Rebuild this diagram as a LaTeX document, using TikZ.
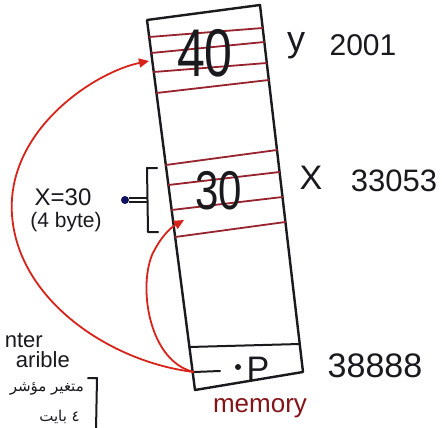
\documentclass[tikz,border=0pt]{standalone}
\usepackage{fontspec}
\setmainfont{Liberation Sans}
\newfontfamily\arabicfont[Script=Arabic]{DejaVu Sans}
\TeXXeTstate=1
\usetikzlibrary{arrows.meta}
\definecolor{ink}{RGB}{25,25,30}
\definecolor{cellred}{RGB}{150,35,45}
\definecolor{arrowred}{RGB}{215,35,25}
\definecolor{memred}{RGB}{130,20,25}
\begin{document}
\begin{tikzpicture}[x=1pt,y=-1pt,
  boxline/.style={draw=ink,line width=2.4pt,line join=round,line cap=round},
  cellline/.style={draw=cellred,line width=1.8pt,line cap=round},
  redarrow/.style={draw=arrowred,line width=1.8pt,-{Triangle[length=10pt,width=9pt]},fill=none},
  hand/.style={inner sep=0pt,text=ink,font=\fontsize{#1}{#1}\selectfont},
]
\useasboundingbox (0,0) rectangle (442,428);
\clip (0,0) rectangle (442,428);
\fill[white] (0,0) rectangle (442,428);

% memory block
\draw[boxline] (147,20) -- (260,5) -- (303,372) -- (195,390) -- cycle;
% cells of y
\draw[cellline] (149.2,37) -- (262.7,28);
\draw[cellline] (151.3,53) -- (264.3,42);
\draw[cellline] (153.7,72) -- (266.8,63);
\draw[cellline] (156.5,93) -- (268.8,80);
% cells of x
\draw[cellline] (165.8,165) -- (277,150);
\draw[cellline] (168.4,185) -- (279.6,172);
\draw[cellline] (171.6,210) -- (282.5,197);
\draw[cellline] (175.2,237) -- (285.4,222);
% cell of p
\draw[boxline,line width=2pt] (189.4,347) -- (299.7,344);

% values in cells
\node[hand=50] (v40) at (205,53) {\scalebox{1}[1.35]{40}};
\node[hand=42] (v30) at (219,191) {\scalebox{1}[1.3]{30}};
\node[hand=34] (vP) at (258,369) {P};
\fill[ink] (238,367) circle (3pt);

% names and addresses
\node[hand=36] (ny) at (296,46) {y};
\node[hand=30] (ay) at (363,45) {2001};
\node[hand=34] (nx) at (311,178) {X};
\node[hand=31] (ax) at (394,181) {33053};
\node[hand=34] (ap) at (375,366) {38888};
\node[hand=26,text=memred] (mem) at (260,408) {memory};

% x description
\node[hand=24] (xdesc) at (63,197) {X=30};
\node[hand=21] (xsize) at (66,222) {(4 byte)};
\draw[ink,line width=2pt,line cap=round,line join=round] (157,168) -- (147,168) -- (148,232) -- (158,232);
\coordinate (brk) at (147,200);
\node[circle,fill=ink!70!blue,inner sep=0pt,minimum size=8pt] (dot) at (125,200) {};
\draw[ink,line width=1.4pt] ([yshift=-2pt]dot.east) -- ([yshift=-2pt]brk);
\draw[ink,line width=1.4pt] ([yshift=2pt]dot.east) -- ([yshift=2pt]brk);

% pointer description (as much as the picture shows)
\node[hand=22,anchor=east] (pt1) at (43,340) {nter};
\node[hand=22,anchor=east] (pt2) at (70,360) {arible};
\node[hand=15,anchor=east] (pt3) at (84,389) {\arabicfont\beginR متغير مؤشر\endR};
\node[hand=15,anchor=east] (pt4) at (80,417) {\arabicfont\beginR ٤ بايت\endR};
\draw[ink,line width=2pt,line cap=round,line join=round] (88,378) -- (97,378) -- (96,430);

% arrows from p
\coordinate (ptail) at (194,372);
\coordinate (c40) at (149,61);
\coordinate (c30) at (184,220);
\draw[ink,line width=2pt,line cap=round] (ptail) -- (220,371);
\draw[redarrow] (ptail) .. controls (110,362) and (18,300) .. (12,215)
   .. controls (6,130) and (95,72) .. (c40);
\draw[redarrow] (ptail) .. controls (150,362) and (138,290) .. (152,255)
   .. controls (160,238) and (170,228) .. (c30);
\end{tikzpicture}
\end{document}
